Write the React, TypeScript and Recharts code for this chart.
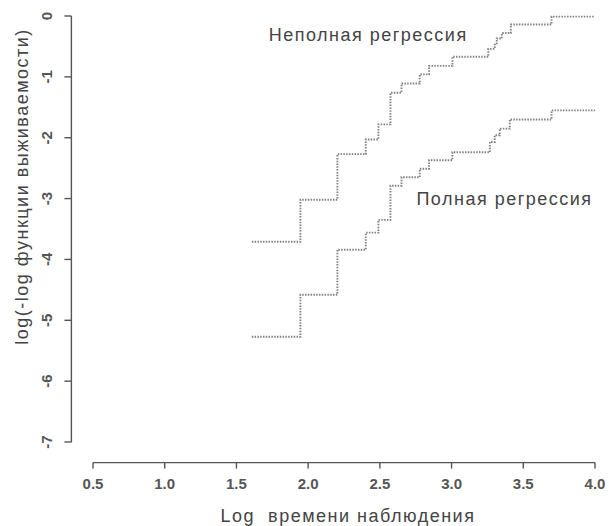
import { LineChart, Line, XAxis, YAxis, ReferenceDot, ReferenceLine } from "recharts";

// log time breakpoints and log(-log S) levels
const partialTimes = [1.607, 1.946, 2.204, 2.402, 2.49, 2.574, 2.651, 2.778, 2.843, 3.006, 3.256, 3.301, 3.315, 3.35, 3.413, 3.697, 3.992];
const partialValues = [-3.71, -3.02, -2.27, -2.03, -1.78, -1.26, -1.11, -0.96, -0.82, -0.67, -0.54, -0.45, -0.37, -0.28, -0.14, -0.01, -0.01];

const fullTimes = [1.607, 1.946, 2.204, 2.402, 2.49, 2.574, 2.651, 2.778, 2.843, 3.006, 3.267, 3.301, 3.336, 3.406, 3.697, 4.0];
const fullValues = [-5.27, -4.58, -3.84, -3.56, -3.35, -2.79, -2.65, -2.51, -2.37, -2.24, -2.07, -1.96, -1.85, -1.7, -1.55, -1.55];

const xTicks = [0.5, 1.0, 1.5, 2.0, 2.5, 3.0, 3.5, 4.0];
const yTicks = [0, -1, -2, -3, -4, -5, -6, -7];

const partialLabel = "Неполная регрессия";
const fullLabel = "Полная регрессия";
const xTitle = "Log  времени наблюдения";
const yTitle = "log(-log функции выживаемости)";

const FONT = "'Liberation Sans', Arial, sans-serif";
const AXIS = "#555";
const TEXT = "#444";
const LINE = "#808080";

// R-style detached axes: offsets of the axis lines from the plot box
const X_GAP = 20.6;
const Y_GAP = 21.6;
const X_AXIS_AT = -7 - X_GAP / 60.86;
const Y_AXIS_AT = 0.5 - Y_GAP / 143.4;

const partial = partialTimes.map((t, i) => ({ t, v: partialValues[i] }));
const full = fullTimes.map((t, i) => ({ t, v: fullValues[i] }));

function XTick({ x, y, payload }: any) {
  return (
    <g>
      <line x1={x} x2={x} y1={y + X_GAP} y2={y + X_GAP + 6} stroke={AXIS} strokeWidth={1.4} />
      <text
        x={x}
        y={y + X_GAP + 21}
        textAnchor="middle"
        dominantBaseline="central"
        fontSize={15}
        fontWeight="bold"
        fill="#555"
        fontFamily={FONT}
      >
        {Number(payload.value).toFixed(1)}
      </text>
    </g>
  );
}

function YTick({ x, y, payload }: any) {
  return (
    <g>
      <line x1={x - Y_GAP} x2={x - Y_GAP - 7} y1={y} y2={y} stroke={AXIS} strokeWidth={1.4} />
      <text
        transform={`translate(${x - Y_GAP - 19},${y}) rotate(-90)`}
        textAnchor="middle"
        fontSize={15}
        fontWeight="bold"
        fill="#555"
        fontFamily={FONT}
      >
        {payload.value}
      </text>
    </g>
  );
}

const titleStyle = { letterSpacing: "1.5px", whiteSpace: "pre" as const };

export default function App() {
  return (
    <div style={{ width: 609, height: 526, background: "#fff" }}>
      <style>{`body { margin: 0; }`}</style>
      <LineChart width={609} height={526} margin={{ top: 16, right: 14, left: 0, bottom: 0 }}>
        <XAxis
          type="number"
          dataKey="t"
          domain={[0.5, 4.0]}
          ticks={xTicks}
          height={84}
          axisLine={false}
          tickLine={false}
          tickSize={0}
          tickMargin={0}
          tick={<XTick />}
          label={{
            content: ({ viewBox }: any) => (
              <text
                x={viewBox.x + viewBox.width / 2 + 4}
                y={viewBox.y + 74}
                textAnchor="middle"
                dominantBaseline="central"
                fontSize={18}
                fill={TEXT}
                fontFamily={FONT}
                style={titleStyle}
              >
                {xTitle}
              </text>
            ),
          }}
        />
        <YAxis
          type="number"
          dataKey="v"
          domain={[-7, 0]}
          ticks={yTicks}
          width={93}
          axisLine={false}
          tickLine={false}
          tickSize={0}
          tickMargin={0}
          tick={<YTick />}
          label={{
            content: ({ viewBox }: any) => (
              <text
                transform={`translate(22,${viewBox.y + viewBox.height * 0.4}) rotate(-90)`}
                textAnchor="middle"
                dominantBaseline="central"
                fontSize={18}
                fill={TEXT}
                fontFamily={FONT}
                style={titleStyle}
              >
                {yTitle}
              </text>
            ),
          }}
        />
        <ReferenceLine
          segment={[{ x: 0.5, y: X_AXIS_AT }, { x: 4.0, y: X_AXIS_AT }]}
          stroke={AXIS}
          strokeWidth={1.4}
          ifOverflow="visible"
        />
        <ReferenceLine
          segment={[{ x: Y_AXIS_AT, y: 0 }, { x: Y_AXIS_AT, y: -7 }]}
          stroke={AXIS}
          strokeWidth={1.4}
          ifOverflow="visible"
        />
        <Line
          data={partial}
          dataKey="v"
          type="stepAfter"
          stroke={LINE}
          strokeWidth={1.9}
          strokeDasharray="1.5 1.3"
          dot={false}
          isAnimationActive={false}
        />
        <Line
          data={full}
          dataKey="v"
          type="stepAfter"
          stroke={LINE}
          strokeWidth={1.9}
          strokeDasharray="1.5 1.3"
          dot={false}
          isAnimationActive={false}
        />
        <ReferenceDot
          x={1.725}
          y={-0.3}
          r={0}
          ifOverflow="visible"
          label={{ value: partialLabel, position: "right", offset: 0, fontSize: 18, fill: TEXT, fontFamily: FONT, style: titleStyle }}
        />
        <ReferenceDot
          x={2.755}
          y={-3.0}
          r={0}
          ifOverflow="visible"
          label={{ value: fullLabel, position: "right", offset: 0, fontSize: 18, fill: TEXT, fontFamily: FONT, style: titleStyle }}
        />
      </LineChart>
    </div>
  );
}
